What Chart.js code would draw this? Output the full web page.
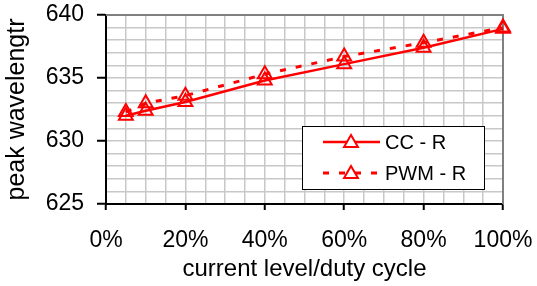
<!DOCTYPE html>
<html>
<head>
<meta charset="utf-8">
<script src="https://cdn.jsdelivr.net/npm/chart.js@4.4.1/dist/chart.umd.min.js"></script>
<style>
  html, body { margin: 0; padding: 0; background: #fff; }
  #wrap { width: 537px; height: 286px; }
</style>
</head>
<body>
<div id="wrap"><canvas id="chart" width="537" height="286"></canvas></div>
<script>
// values
const levels = [5, 10, 20, 40, 60, 80, 100];          // current level / duty cycle, %
const ccR = [632.0, 632.4, 633.1, 634.8, 636.1, 637.4, 638.9];
const pwmR = [632.3, 633.0, 633.6, 635.3, 636.7, 637.8, 639.0];
const seriesNames = ['CC - R', 'PWM - R'];
const yMin = 625, yMax = 640;
const xMin = 0, xMax = 100;

const red = '#ff0000';
const font = 'Liberation Sans, Arial, sans-serif';

function toPoints(vals) {
    return levels.map((x, i) => ({ x: x, y: vals[i] }));
}

// frame + legend box, drawn like the spreadsheet original
const frameAndLegend = {
    id: 'frameAndLegend',
    beforeDatasetsDraw(chart) {
        const ctx = chart.ctx;
        const a = chart.chartArea;
        ctx.save();
        ctx.strokeStyle = '#808080';
        ctx.lineWidth = 2;
        ctx.beginPath();
        ctx.moveTo(a.left, a.top);
        ctx.lineTo(a.right, a.top);
        ctx.lineTo(a.right, a.bottom);
        ctx.stroke();
        ctx.restore();
    },
    afterDraw(chart) {
        const ctx = chart.ctx;
        const bx = 302, by = 126, bw = 182, bh = 63;
        ctx.save();
        ctx.fillStyle = '#fff';
        ctx.fillRect(bx, by, bw, bh);
        ctx.strokeStyle = '#000';
        ctx.lineWidth = 1;
        ctx.strokeRect(bx + 0.5, by + 0.5, bw, bh);

        chart.data.datasets.forEach((ds, i) => {
            const y = by + 16 + i * 31;
            ctx.strokeStyle = ds.borderColor;
            ctx.lineWidth = ds.borderWidth;
            ctx.setLineDash(ds.borderDash || []);
            ctx.beginPath();
            ctx.moveTo(bx + 21, y);
            ctx.lineTo(bx + 78, y);
            ctx.stroke();
            ctx.setLineDash([]);
            ctx.lineWidth = ds.pointBorderWidth;
            ctx.fillStyle = '#fff';
            Chart.helpers.drawPoint(ctx, {
                pointStyle: 'triangle', radius: ds.pointRadius, rotation: 0,
                borderWidth: ds.pointBorderWidth
            }, bx + 49, y + 1);
            ctx.fillStyle = '#000';
            ctx.font = '20px ' + font;
            ctx.textBaseline = 'middle';
            ctx.fillText(ds.label, bx + 83, y + 1);
        });
        ctx.restore();
    }
};

new Chart(document.getElementById('chart'), {
    type: 'line',
    data: {
        datasets: [{
            label: seriesNames[0],
            data: toPoints(ccR),
            borderColor: red,
            borderWidth: 2.5,
            pointStyle: 'triangle',
            pointRadius: 8,
            pointBorderWidth: 2,
            pointBorderColor: red,
            pointBackgroundColor: 'rgba(255,255,255,0)',
            tension: 0,
            clip: false
        }, {
            label: seriesNames[1],
            data: toPoints(pwmR),
            borderColor: red,
            borderWidth: 3,
            borderDash: [6, 10],
            pointStyle: 'triangle',
            pointRadius: 8,
            pointBorderWidth: 2,
            pointBorderColor: red,
            pointBackgroundColor: 'rgba(255,255,255,0)',
            tension: 0,
            clip: false
        }]
    },
    options: {
        responsive: false,
        animation: false,
        layout: { padding: { top: 15, right: 34, left: 0, bottom: 0 } },
        plugins: {
            legend: { display: false },
            tooltip: { enabled: false }
        },
        scales: {
            x: {
                type: 'linear',
                min: xMin,
                max: xMax,
                afterFit(scale) {
                    scale.height = 82;
                    scale.paddingLeft = 0;
                    scale.paddingRight = 0;
                },
                ticks: {
                    stepSize: 5,
                    autoSkip: false,
                    maxRotation: 0,
                    padding: 17,
                    color: '#000',
                    font: { family: font, size: 23 },
                    callback: v => (v % 20 === 0 ? v + '%' : '')
                },
                grid: {
                    color: '#c8c8c8',
                    lineWidth: 1.5,
                    drawTicks: true,
                    tickLength: 6,
                    tickWidth: 2,
                    tickColor: c => (c.tick && c.tick.value % 20 === 0 ? '#000' : 'rgba(0,0,0,0)')
                },
                border: { color: '#000', width: 2 },
                title: {
                    display: true,
                    text: 'current level/duty cycle',
                    color: '#000',
                    font: { family: font, size: 24 },
                    padding: { top: 0, bottom: 2 }
                }
            },
            y: {
                min: yMin,
                max: yMax,
                afterFit(scale) {
                    scale.width = 106;
                    scale.paddingTop = 0;
                    scale.paddingBottom = 0;
                },
                ticks: {
                    stepSize: 1,
                    autoSkip: false,
                    padding: 13,
                    color: '#000',
                    font: { family: font, size: 23 },
                    callback: v => (v % 5 === 0 ? String(v) : '')
                },
                grid: {
                    color: '#c8c8c8',
                    lineWidth: 1.5,
                    tickLength: 9,
                    tickWidth: 2,
                    tickColor: c => (c.tick && c.tick.value % 5 === 0 ? '#000' : 'rgba(0,0,0,0)')
                },
                border: { color: '#000', width: 2 },
                title: {
                    display: true,
                    text: 'peak wavelengtr',
                    color: '#000',
                    font: { family: font, size: 25 },
                    padding: { top: 2, bottom: 0 }
                }
            }
        }
    },
    plugins: [frameAndLegend]
});
</script>
</body>
</html>
